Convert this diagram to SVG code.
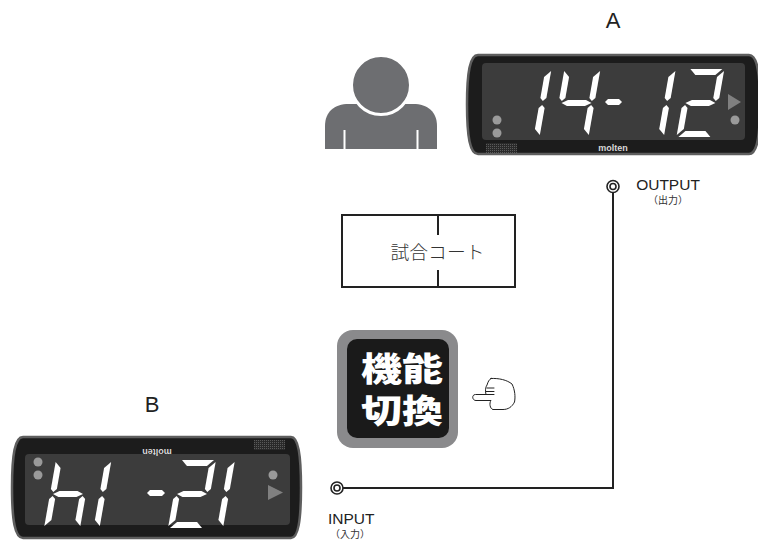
<svg xmlns="http://www.w3.org/2000/svg" xmlns:xlink="http://www.w3.org/1999/xlink" width="758" height="543" viewBox="0 0 758 543">
  <style>
    .body { fill: #1c1c1c; stroke: #5e5e5e; stroke-width: 2.5; }
    .win { fill: #3c3c3c; }
    .seg { fill: #ffffff; }
    .lamp { fill: #9a9a9a; }
    .tri { fill: #808080; }
    .brand { font-family: "Liberation Sans", Arial, sans-serif; font-weight: bold; font-size: 9px; fill: #d8d8d8; }
    .lbl { font-family: "Liberation Sans", Arial, sans-serif; fill: #222; }
    .jp { font-family: "Noto Sans CJK JP", sans-serif; fill: #333; }
    .wire { fill: none; stroke: #222; stroke-width: 2; }
    .jack { fill: #fff; stroke: #222; stroke-width: 1.6; }
    .btn { font-family: "Noto Sans CJK JP", sans-serif; font-weight: 900; font-size: 33px; fill: #fff; }
  </style>
  <defs>
    <!-- seven-segment pieces, local box 36 x 68, baseline at y=0 -->
    <polygon id="sa" class="seg" points="2,-68 34,-68 28,-62 8,-62"/>
    <polygon id="sd" class="seg" points="8,-6 28,-6 34,0 2,0"/>
    <polygon id="sg" class="seg" points="3,-34 9,-37 27,-37 33,-34 27,-31 9,-31"/>
    <polygon id="sf" class="seg" points="0,-66 6,-60 6,-39 3,-36 0,-39"/>
    <polygon id="se" class="seg" points="0,-29 3,-32 6,-29 6,-8 0,-2"/>
    <polygon id="sb" class="seg" points="36,-66 30,-60 30,-39 33,-36 36,-39"/>
    <polygon id="sc" class="seg" points="36,-29 33,-32 30,-29 30,-8 36,-2"/>
    <pattern id="grille" width="2" height="2" patternUnits="userSpaceOnUse">
      <rect width="2" height="2" fill="#2a2a2a"/>
      <rect width="1" height="1" fill="#5a5a5a"/>
    </pattern>
  </defs>

  <!-- labels -->
  <text class="lbl" x="613" y="28" font-size="22" text-anchor="middle">A</text>
  <text class="lbl" x="152" y="412" font-size="22" text-anchor="middle">B</text>

  <!-- scoreboard A -->
  <g id="board-a">
    <path class="body" d="M478,55 H749 C757,55 760,72 760,104.5 C760,137 757,154 749,154 H478 C470,154 467,137 467,104.5 C467,72 470,55 478,55 Z"/>
    <rect class="win" x="482" y="63" width="263" height="77" rx="4"/>
    <rect x="486" y="143" width="31" height="10" fill="url(#grille)"/>
    <text class="brand" x="613" y="151" text-anchor="middle">molten</text>
    <circle class="lamp" cx="497" cy="120" r="4.5"/>
    <circle class="lamp" cx="497" cy="133" r="4.5"/>
    <polygon class="tri" points="728,94 741,102 728,110"/>
    <circle class="lamp" cx="735" cy="120" r="4.5"/>
    <g transform="translate(503.5,137) skewX(-10)"><use href="#sb"/><use href="#sc"/></g>
    <g transform="translate(552.5,137) skewX(-10)"><use href="#sf"/><use href="#sg"/><use href="#sb"/><use href="#sc"/></g>
    <polygon class="seg" points="605,102 608,99 619,99 622,102 619,105 608,105"/>
    <g transform="translate(627.8,137) skewX(-10)"><use href="#sb"/><use href="#sc"/></g>
    <g transform="translate(676.4,137) skewX(-10)"><use href="#sa"/><use href="#sb"/><use href="#sg"/><use href="#se"/><use href="#sd"/></g>
  </g>

  <!-- scoreboard B -->
  <g id="board-b">
    <path class="body" d="M23,437 H291 C298,437 301,454 301,487.5 C301,521 298,538 291,538 H23 C15,538 12,521 12,487.5 C12,454 15,437 23,437 Z"/>
    <rect class="win" x="25" y="454" width="265" height="71" rx="4"/>
    <rect x="254" y="440" width="31" height="10" fill="url(#grille)"/>
    <text class="brand" x="157" y="443" text-anchor="middle" transform="rotate(180 157 446)">molten</text>
    <circle class="lamp" cx="38" cy="462" r="4.5"/>
    <circle class="lamp" cx="38" cy="475" r="4.5"/>
    <circle class="lamp" cx="273" cy="475" r="4.5"/>
    <polygon class="tri" points="268,485 283,492.5 268,500"/>
    <g transform="translate(44,528) skewX(-10)"><use href="#sf"/><use href="#se"/><use href="#sg"/><use href="#sc"/></g>
    <g transform="translate(63.5,528) skewX(-10)"><use href="#sb"/><use href="#sc"/></g>
    <polygon class="seg" points="147,493 150,490 162,490 165,493 162,496 150,496"/>
    <g transform="translate(168,528) skewX(-10)"><use href="#sa"/><use href="#sb"/><use href="#sg"/><use href="#se"/><use href="#sd"/></g>
    <g transform="translate(187,528) skewX(-10)"><use href="#sb"/><use href="#sc"/></g>
  </g>

  <!-- operator -->
  <g id="operator" fill="#6d6e71">
    <path d="M325,149 V126 C325,112 334,104 349,104 H413 C428,104 437,112 437,126 V149 Z"/>
    <circle cx="381" cy="85" r="29.5" stroke="#fff" stroke-width="3"/>
    <path d="M344.5,130 V149 M417.5,130 V149" stroke="#fff" stroke-width="2"/>
  </g>

  <!-- court -->
  <g id="court">
    <rect x="342" y="215" width="173" height="72" fill="#fff" stroke="#222" stroke-width="2"/>
    <path d="M438,215 V235 M438,270 V287" stroke="#222" stroke-width="2"/>
    <text class="jp" x="437.5" y="259" font-size="18" font-weight="300" fill="#444" text-anchor="middle" textLength="94" lengthAdjust="spacingAndGlyphs">試合コート</text>
  </g>

  <!-- mode button -->
  <g id="mode-button">
    <rect x="337" y="330" width="121" height="118" rx="16" fill="#8a8a8c"/>
    <rect x="347" y="339" width="102" height="99" rx="10" fill="#1a1a1a"/>
    <text class="btn" x="402" y="381" text-anchor="middle" textLength="82" lengthAdjust="spacingAndGlyphs">機能</text>
    <text class="btn" x="402" y="423" text-anchor="middle" textLength="82" lengthAdjust="spacingAndGlyphs">切換</text>
  </g>

  <!-- pointing hand -->
  <g id="hand" fill="#fff" stroke="#222" stroke-width="1" stroke-linejoin="round" stroke-linecap="round">
    <path d="M491,378.5 C499,378 507,380 512,384 C515,390 515.5,397 514.5,402 C512,407 508,409.5 503,409.5 H493 C490,409 489,403 491,400.5 H476 C472,400.5 471.5,394.5 475.5,394.5 H486 C485,391 485.5,387 487,385 C488,382 489,379.5 491,378.5 Z"/>
    <path d="M487,388 H494 M486,391.5 H494 M486,394.5 H494" fill="none"/>
  </g>

  <!-- connectors -->
  <g id="connectors">
    <path class="wire" d="M613,192.5 V488 H343"/>
    <circle class="jack" cx="613" cy="186.5" r="6"/>
    <circle class="jack" cx="613" cy="186.5" r="3"/>
    <circle class="jack" cx="337" cy="488" r="6"/>
    <circle class="jack" cx="337" cy="488" r="3"/>
  </g>

  <!-- port labels -->
  <g id="port-labels">
    <text class="lbl" x="668" y="190" font-size="15.5" text-anchor="middle">OUTPUT</text>
    <text class="jp" x="668" y="204" font-size="10" text-anchor="middle">（出力）</text>
    <text class="lbl" x="328" y="523.5" font-size="15.5">INPUT</text>
    <text class="jp" x="350" y="538" font-size="10" text-anchor="middle">（入力）</text>
  </g>
</svg>
